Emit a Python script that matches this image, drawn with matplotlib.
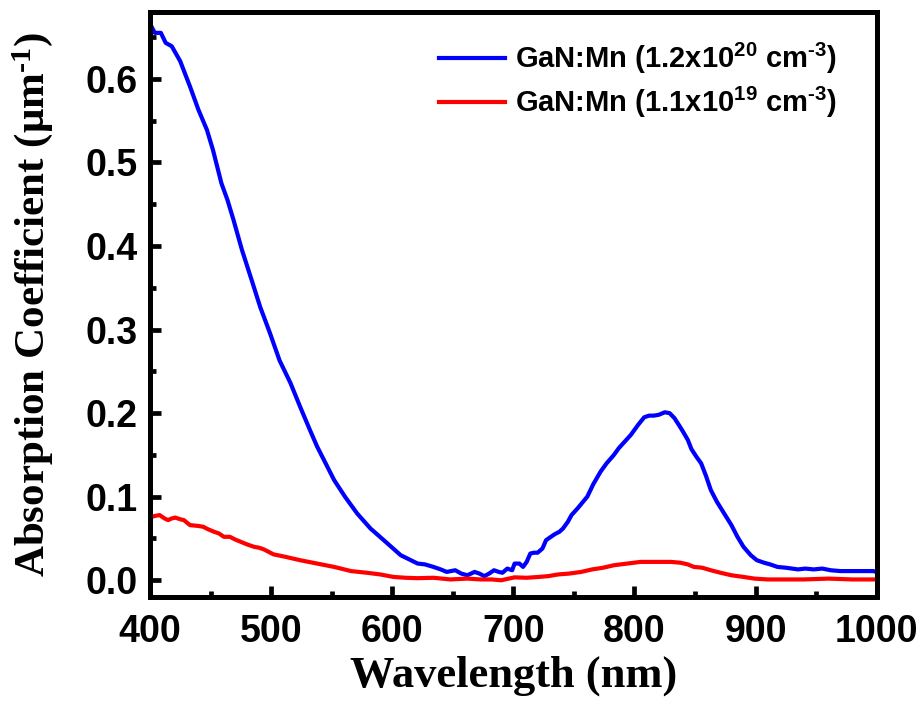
import numpy as np
import matplotlib.pyplot as plt
from matplotlib.ticker import MultipleLocator

sans = 'Liberation Sans'
serif = 'Liberation Serif'

plt.rcParams['mathtext.fontset'] = 'custom'
plt.rcParams['mathtext.rm'] = serif + ':bold'
plt.rcParams['mathtext.bf'] = sans + ':bold'

# datos (longitud de onda en nm, coeficiente en um^-1)
wl_high = [400, 404, 409, 413, 418, 425, 433, 440, 447, 452, 459, 464, 469, 476,
           484, 491, 499, 507, 516, 524, 532, 538, 545, 552, 561, 571, 582, 593,
           600, 607, 614, 621, 627, 634, 640, 645, 652, 657, 662, 668, 672, 676,
           680, 684, 688, 691, 695, 699, 701, 705, 708, 711, 714, 717, 720, 724,
           727, 731, 734, 738, 741, 745, 748, 753, 757, 761, 766, 772, 777, 783,
           787, 792, 797, 803, 808, 812, 816, 820, 825, 829, 833, 837, 840, 844,
           847, 851, 855, 859, 863, 868, 874, 880, 885, 890, 896, 901, 907, 912,
           918, 925, 935, 941, 948, 955, 962, 970, 980, 990, 997, 1000]
abs_high = [0.666, 0.655, 0.655, 0.643, 0.639, 0.621, 0.591, 0.563, 0.539, 0.515,
            0.475, 0.455, 0.431, 0.395, 0.359, 0.327, 0.296, 0.263, 0.236, 0.2075,
            0.180, 0.160, 0.140, 0.120, 0.100, 0.080, 0.062, 0.048, 0.039, 0.030,
            0.025, 0.020, 0.019, 0.016, 0.013, 0.010, 0.012, 0.008, 0.006, 0.010,
            0.008, 0.005, 0.008, 0.012, 0.010, 0.009, 0.014, 0.012, 0.020, 0.020,
            0.016, 0.022, 0.032, 0.033, 0.033, 0.038, 0.048, 0.052, 0.055, 0.058,
            0.062, 0.070, 0.078, 0.086, 0.093, 0.100, 0.115, 0.130, 0.140, 0.150,
            0.158, 0.166, 0.174, 0.186, 0.195, 0.197, 0.197, 0.198, 0.201, 0.200,
            0.194, 0.185, 0.178, 0.168, 0.157, 0.148, 0.140, 0.125, 0.108, 0.094,
            0.080, 0.066, 0.052, 0.040, 0.030, 0.024, 0.021, 0.019, 0.016, 0.015,
            0.013, 0.014, 0.013, 0.014, 0.012, 0.011, 0.011, 0.011, 0.011, 0.010]

wl_low = [400, 404, 408, 412, 415, 418, 421, 425, 428, 433, 440, 444, 448, 453,
          457, 461, 466, 470, 475, 480, 486, 490, 494, 498, 502, 512, 524, 538,
          552, 566, 579, 590, 601, 611, 621, 634, 648, 662, 673, 682, 690, 701,
          711, 721, 729, 737, 746, 756, 765, 774, 783, 794, 805, 813, 822, 830,
          838, 844, 849, 856, 863, 871, 880, 890, 899, 910, 921, 940, 960, 980,
          1000]
abs_low = [0.075, 0.077, 0.078, 0.074, 0.072, 0.074, 0.075, 0.073, 0.072, 0.066,
           0.065, 0.064, 0.061, 0.058, 0.056, 0.052, 0.052, 0.049, 0.046, 0.043,
           0.040, 0.039, 0.037, 0.034, 0.031, 0.028, 0.024, 0.020, 0.016, 0.011,
           0.009, 0.007, 0.004, 0.003, 0.0025, 0.003, 0.001, 0.002, 0.001, 0.001,
           0.000, 0.0035, 0.003, 0.004, 0.005, 0.007, 0.008, 0.010, 0.013, 0.015,
           0.018, 0.020, 0.022, 0.022, 0.022, 0.022, 0.021, 0.019, 0.016, 0.015,
           0.012, 0.009, 0.006, 0.004, 0.002, 0.001, 0.001, 0.001, 0.002, 0.001,
           0.001]

label_high = r'GaN:Mn (1.2x10$^{\mathbf{20}}$ cm$^{\mathbf{\text{-}3}}$)'
label_low = r'GaN:Mn (1.1x10$^{\mathbf{19}}$ cm$^{\mathbf{\text{-}3}}$)'

fig = plt.figure(figsize=(9.2, 7.04), dpi=100)
ax = fig.add_axes([0.163, 0.152, 0.79, 0.831])

ax.plot(wl_high, abs_high, color='#0000ff', lw=3, label=label_high)
ax.plot(wl_low, abs_low, color='#ff0000', lw=3, label=label_low)

ax.set_xlim(400, 1000)
ax.set_ylim(-0.02, 0.68)
ax.xaxis.set_major_locator(MultipleLocator(100))
ax.xaxis.set_minor_locator(MultipleLocator(50))
ax.yaxis.set_major_locator(MultipleLocator(0.1))
ax.yaxis.set_minor_locator(MultipleLocator(0.05))
ax.yaxis.set_major_formatter(plt.FuncFormatter(lambda v, p: f'{v:.1f}'))

for s in ax.spines.values():
    s.set_linewidth(3.6)
ax.tick_params(which='both', direction='in', width=3.4, top=False, right=False)
ax.tick_params(which='major', length=8)
ax.tick_params(which='minor', length=4.5)
ax.tick_params(axis='x', which='major', pad=12)
ax.tick_params(axis='y', which='major', pad=9)
for lab in ax.get_xticklabels() + ax.get_yticklabels():
    lab.set_fontfamily(sans)
    lab.set_fontweight('bold')
    lab.set_fontsize(27)

ax.set_xlabel('Wavelength (nm)', fontfamily=serif, fontweight='bold', fontsize=32)
ax.set_ylabel(r'Absorption Coefficient ($\mathrm{\mu m^{\text{-}1}}$)', fontfamily=serif,
              fontweight='bold', fontsize=31)
ax.xaxis.set_label_coords(0.5, -0.1)
ax.yaxis.set_label_coords(-0.13, 0.5)

ax.legend(loc='upper right', bbox_to_anchor=(0.945, 0.95), frameon=False,
          prop={'family': sans, 'weight': 'bold', 'size': 21},
          handlelength=2.27, handletextpad=0.34, labelspacing=0.28,
          borderaxespad=0, borderpad=0)

plt.savefig('out.png', dpi=100)
